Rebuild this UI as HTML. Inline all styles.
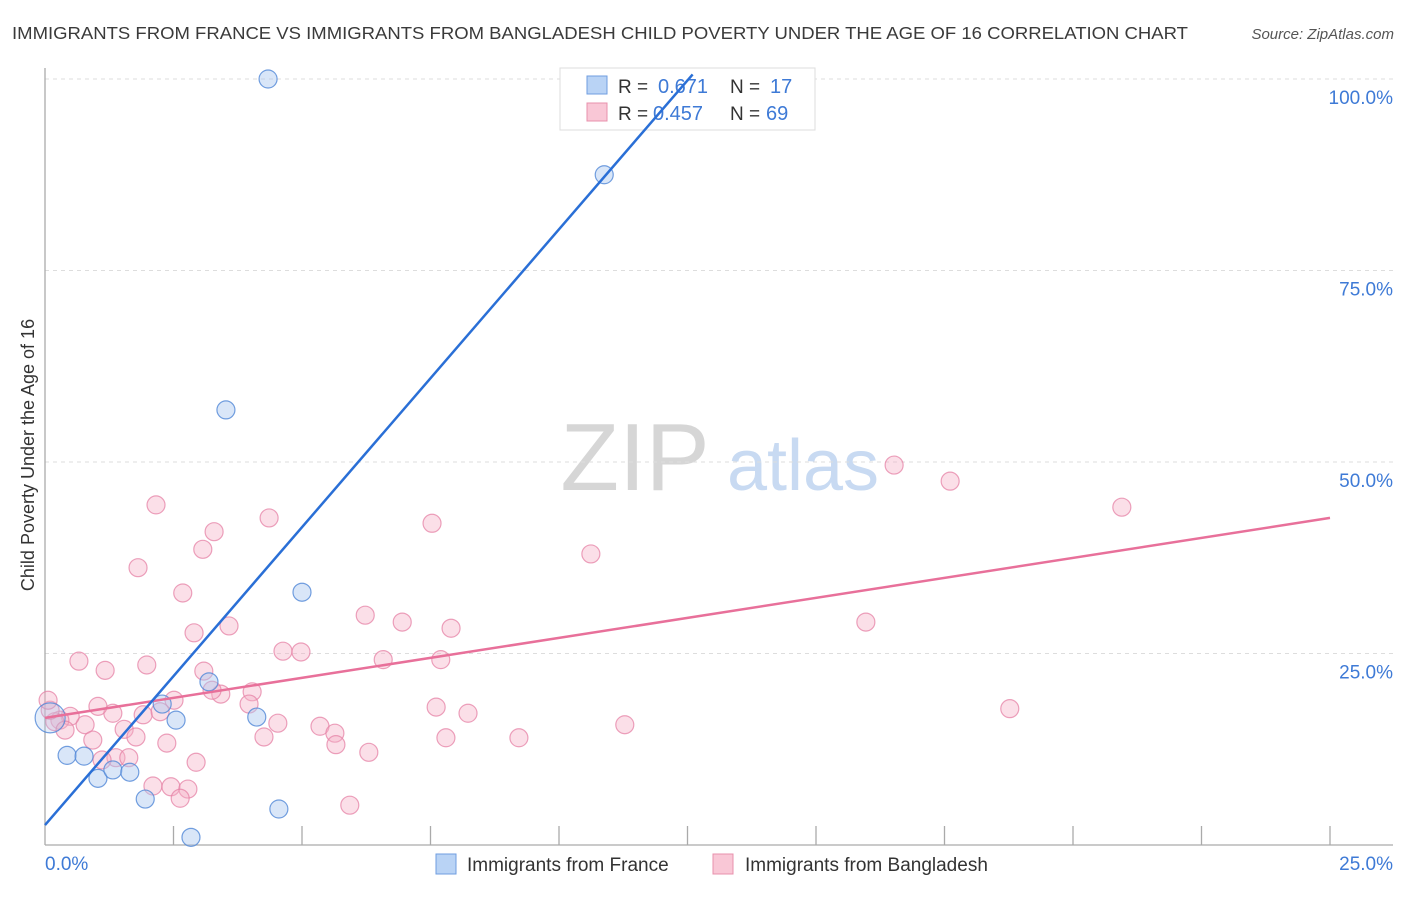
<!DOCTYPE html>
<html><head><meta charset="utf-8"><style>
body{margin:0;background:#fff;font-family:"Liberation Sans",sans-serif}
svg text{font-family:"Liberation Sans",sans-serif}
</style></head><body>
<svg id="chart" width="1406" height="892" viewBox="0 0 1406 892" xmlns="http://www.w3.org/2000/svg">
<text x="12" y="39" font-size="17.5" fill="#3a3a3a" textLength="1176" lengthAdjust="spacingAndGlyphs">IMMIGRANTS FROM FRANCE VS IMMIGRANTS FROM BANGLADESH CHILD POVERTY UNDER THE AGE OF 16 CORRELATION CHART</text>
<text x="1394" y="39" font-size="15" fill="#555" font-style="italic" text-anchor="end">Source: ZipAtlas.com</text>
<g>
<text x="635" y="490" font-size="96" fill="#d6d6d6" font-family="Liberation Serif,serif" text-anchor="middle">ZIP</text>
<text x="803" y="490" font-size="72" fill="#c8daf2" text-anchor="middle">atlas</text>
</g>
<g id="grid"></g><g id="axes"></g>
<text transform="translate(34,455) rotate(-90)" font-size="18" fill="#333" text-anchor="middle">Child Poverty Under the Age of 16</text>
<g>
<rect x="560" y="68" width="255" height="62" fill="#fff" stroke="#ddd"/>
<rect x="587" y="76" width="20" height="18" fill="#b9d3f5" stroke="#6f9ee0"/>
<rect x="587" y="103" width="20" height="18" fill="#f9c7d6" stroke="#e890ac"/>
<text x="618" y="93" font-size="19" fill="#333">R =</text>
<text x="658" y="93" font-size="20" fill="#3e7ad6">0.671</text>
<text x="730" y="93" font-size="19" fill="#333">N =</text>
<text x="770" y="93" font-size="20" fill="#3e7ad6">17</text>
<text x="618" y="120" font-size="19" fill="#333">R =</text>
<text x="653" y="120" font-size="20" fill="#3e7ad6">0.457</text>
<text x="730" y="120" font-size="19" fill="#333">N =</text>
<text x="766" y="120" font-size="20" fill="#3e7ad6">69</text>
</g>
<g id="marks"></g>
<g>
<rect x="436" y="854" width="20" height="20" fill="#b9d3f5" stroke="#6f9ee0"/>
<text x="467" y="871" font-size="19" fill="#333">Immigrants from France</text>
<rect x="713" y="854" width="20" height="20" fill="#f9c7d6" stroke="#e890ac"/>
<text x="745" y="871" font-size="19" fill="#333">Immigrants from Bangladesh</text>
</g>
</svg>
<script>
const yTicks=[25,50,75,100];
const yTickLabels=["25.0%","50.0%","75.0%","100.0%"];
const xTickLabels=["0.0%","25.0%"];
const franceX=[4.34,10.88,3.52,5.0,3.19,2.28,2.55,4.12,0.43,0.76,1.03,1.32,1.65,1.95,4.55,2.84,0.1];
const franceY=[100,87.5,56.8,33.0,21.3,18.4,16.3,16.7,11.7,11.6,8.7,9.8,9.5,6.0,4.7,1.0,16.6];
const bangX=[2.16,1.81,2.68,3.07,3.29,4.36,3.58,2.90,0.66,1.17,1.98,3.09,3.42,4.03,2.51,1.32,1.03,0.78,0.49,0.29,0.19,0.39,0.93,1.54,1.77,1.91,2.24,2.37,1.38,1.11,1.63,2.10,2.45,2.78,2.63,2.94,3.25,3.97,4.26,4.53,4.63,4.98,5.35,5.64,5.66,5.93,6.30,6.23,6.58,6.95,7.53,7.61,7.80,7.90,7.70,8.23,9.22,10.62,11.28,15.97,16.52,17.61,18.77,20.95,0.10,0.06];
const bangY=[44.4,36.2,32.9,38.6,40.9,42.7,28.6,27.7,24.0,22.8,23.5,22.7,19.7,20.0,18.9,17.2,18.1,15.7,16.8,16.3,16.1,15.0,13.7,15.1,14.1,17.0,17.4,13.3,11.4,11.1,11.4,7.7,7.6,7.3,6.1,10.8,20.2,18.4,14.1,15.9,25.3,25.2,15.5,14.6,13.1,5.2,12.1,30.0,24.2,29.1,42.0,18.0,14.0,28.3,24.2,17.2,14.0,38.0,15.7,29.1,49.6,47.5,17.8,44.1,17.6,18.9];
const franceFit=[0,2.6,12.6,100.6];
const bangFit=[0,16.6,25,42.7];
const NS="http://www.w3.org/2000/svg";
const X=v=>45+v*51.4, Y=v=>845-v*7.66;
function mk(t,a,p){const e=document.createElementNS(NS,t);for(const k in a)e.setAttribute(k,a[k]);p.appendChild(e);return e;}
const grid=document.getElementById('grid'),axes=document.getElementById('axes'),marks=document.getElementById('marks');
yTicks.forEach((t,i)=>{
 const l=mk('line',{x1:45,x2:1393,y1:Y(t),y2:Y(t),stroke:'#ddd','stroke-dasharray':'4,4'},grid);
 
 
 const tx=mk('text',{x:1393,y:Y(t)+25,'font-size':19,fill:'#3e7ad6','text-anchor':'end'},axes);
 tx.textContent=yTickLabels[i];
 
 
});
mk('line',{x1:45,x2:45,y1:68,y2:845,stroke:'#aaa','stroke-width':1.3},axes);
mk('line',{x1:45,x2:1393,y1:845,y2:845,stroke:'#aaa','stroke-width':1.3},axes);
for(let i=1;i<=10;i++){const t=mk('line',{x1:X(i*2.5),x2:X(i*2.5),y1:826,y2:845,stroke:'#aaa','stroke-width':1.3},axes);
 
 }
const xl0=mk('text',{x:45,y:870,'font-size':19,fill:'#3e7ad6'},axes);xl0.textContent=xTickLabels[0];


const xl1=mk('text',{x:1393,y:870,'font-size':19,fill:'#3e7ad6','text-anchor':'end'},axes);xl1.textContent=xTickLabels[1];


bangX.forEach((v,i)=>{const c=mk('circle',{cx:X(v),cy:Y(bangY[i]),r:9,fill:'rgba(246,176,198,0.4)',stroke:'rgba(230,130,165,0.75)','stroke-width':1.2},marks);
 
 });
franceX.forEach((v,i)=>{const c=mk('circle',{cx:X(v),cy:Y(franceY[i]),r:i==16?15:9,fill:i==16?'rgba(170,200,240,0.3)':'rgba(170,200,240,0.45)',stroke:'rgba(80,135,215,0.8)','stroke-width':1.2},marks);
 
 });
const bl=mk('line',{x1:X(bangFit[0]),y1:Y(bangFit[1]),x2:X(bangFit[2]),y2:Y(bangFit[3]),stroke:'#e8709a','stroke-width':2.5},marks);


const fl=mk('line',{x1:X(franceFit[0]),y1:Y(franceFit[1]),x2:X(franceFit[2]),y2:Y(franceFit[3]),stroke:'#2a6fd6','stroke-width':2.5},marks);


</script>
</body></html>
